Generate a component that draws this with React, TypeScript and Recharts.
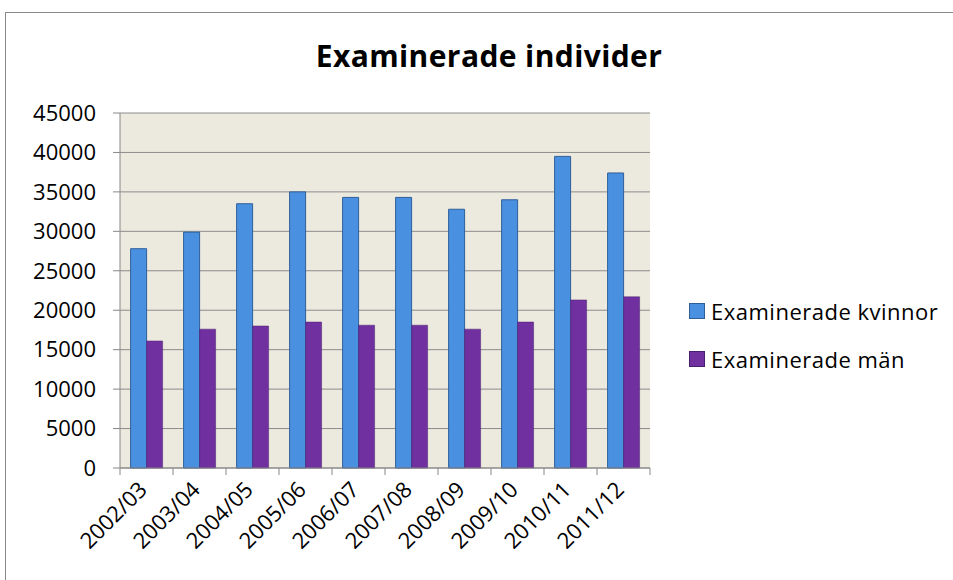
import { BarChart, Bar, XAxis, YAxis, CartesianGrid } from 'recharts'

const years = ['2002/03', '2003/04', '2004/05', '2005/06', '2006/07', '2007/08', '2008/09', '2009/10', '2010/11', '2011/12']
const kvinnor = [27800, 29900, 33500, 35000, 34300, 34300, 32800, 34000, 39500, 37400]
const man = [16100, 17600, 18000, 18500, 18100, 18100, 17600, 18500, 21300, 21700]
const yTicks = [0, 5000, 10000, 15000, 20000, 25000, 30000, 35000, 40000, 45000]

const BLUE = '#4a90e0'
const PURPLE = '#7030a0'
const FONT = '"Open Sans", Lato, sans-serif'

const data = years.map((y, i) => ({ year: y, kvinnor: kvinnor[i], man: man[i] }))

function XTick(props: any) {
  const { x, y, payload, index } = props
  const half = payload?.offset ?? 26.5
  return (
    <g>
      <line x1={x - half} y1={y - 8} x2={x - half} y2={y - 1} stroke="#888" />
      {index === years.length - 1 && <line x1={x + half} y1={y - 8} x2={x + half} y2={y - 1} stroke="#888" />}
      <text x={x + 2} y={y + 15} transform={`rotate(-45, ${x + 2}, ${y + 15})`} textAnchor="end"
        fontSize={22} fontFamily={FONT} fill="#000">{payload.value}</text>
    </g>
  )
}

const legendItems = [
  { label: 'Examinerade kvinnor', color: BLUE, border: '#2f5f99' },
  { label: 'Examinerade män', color: PURPLE, border: '#4a1f6e' },
]

export default function App() {
  return (
    <div style={{ position: 'fixed', left: 0, top: 0, width: 953, height: 580, background: '#fff', fontFamily: FONT }}>
      <div style={{ position: 'absolute', left: 5, top: 12, right: -2, bottom: -2, border: '1.5px solid #8a8a8a' }} />
      <div style={{ position: 'absolute', left: 0, width: 978, top: 35, textAlign: 'center', fontSize: 30, letterSpacing: 0.4, fontWeight: 700, color: '#000' }}>
        Examinerade individer
      </div>
      <BarChart width={953} height={580} data={data} margin={{ top: 113, right: 303, bottom: 0, left: 0 }}
        barCategoryGap="20%" barGap={0}>
        <CartesianGrid vertical={false} stroke="#8c8c8c" fill="#ece9df" />
        <XAxis dataKey="year" height={112} axisLine={{ stroke: '#888' }} tickLine={false} interval={0} tick={<XTick />} />
        <YAxis width={120} domain={[0, 45000]} ticks={yTicks} interval={0} axisLine={{ stroke: '#888' }}
          tickLine={{ stroke: '#888' }} tickSize={7} tickMargin={17}
          tick={{ fontSize: 22, fill: '#000', fontFamily: FONT }} />
        <Bar dataKey="kvinnor" fill={BLUE} stroke="#2f5f99" strokeWidth={1} isAnimationActive={false} />
        <Bar dataKey="man" fill={PURPLE} stroke="#4a2070" strokeWidth={0.5} isAnimationActive={false} />
      </BarChart>
      <div style={{ position: 'absolute', left: 689, top: 295 }}>
        {legendItems.map(it => (
          <div key={it.label} style={{ display: 'flex', alignItems: 'center', height: 32, marginBottom: 16, fontSize: 22, letterSpacing: 0.5, color: '#000' }}>
            <span style={{ display: 'inline-block', width: 14, height: 14, background: it.color, border: `1px solid ${it.border}`, marginRight: 6 }} />
            {it.label}
          </div>
        ))}
      </div>
    </div>
  )
}
